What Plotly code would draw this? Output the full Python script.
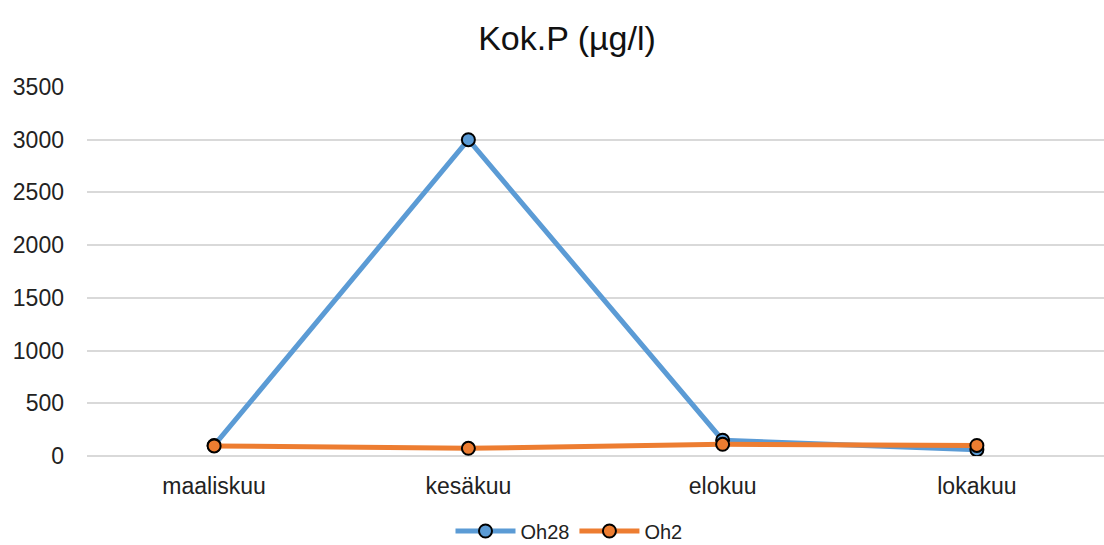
import plotly.graph_objects as go

categories = ["maaliskuu", "kesäkuu", "elokuu", "lokakuu"]
oh28 = [100, 3000, 150, 60]
oh2 = [95, 73, 111, 100]

fig = go.Figure()
fig.add_trace(go.Scatter(
    x=categories, y=oh28, name="Oh28", mode="lines+markers",
    line=dict(color="#5B9BD5", width=5),
    marker=dict(size=13, color="#5B9BD5", line=dict(color="black", width=2)),
))
fig.add_trace(go.Scatter(
    x=categories, y=oh2, name="Oh2", mode="lines+markers",
    line=dict(color="#ED7D31", width=5),
    marker=dict(size=13, color="#ED7D31", line=dict(color="black", width=2)),
))

fig.update_layout(
    width=1104, height=545,
    margin=dict(l=87, r=0, t=87, b=89, autoexpand=False),
    paper_bgcolor="white", plot_bgcolor="white",
    font=dict(family="Liberation Sans, Arial, sans-serif", color="#222222", size=23),
    title=dict(text="Kok.P (µg/l)", x=567/1104, xanchor="center", y=1 - 38/545, yanchor="middle",
               font=dict(size=34, color="#111111")),
    showlegend=True,
    legend=dict(orientation="h", xref="paper", x=(569 - 87) / 1017, xanchor="center",
                yref="container", y=(545 - 531) / 545, yanchor="middle",
                font=dict(size=20), itemwidth=60),
    xaxis=dict(type="category", range=[-0.5, 3.5], showgrid=False, ticks="",
               showline=False, tickfont=dict(size=23), ticklabelstandoff=14),
    yaxis=dict(range=[0, 3500], dtick=500, showgrid=True, gridcolor="#D9D9D9",
               gridwidth=2, zeroline=True, zerolinecolor="#D9D9D9", zerolinewidth=2,
               ticks="", tickfont=dict(size=23), ticklabelstandoff=22),
)

fig.write_html("out.html")
